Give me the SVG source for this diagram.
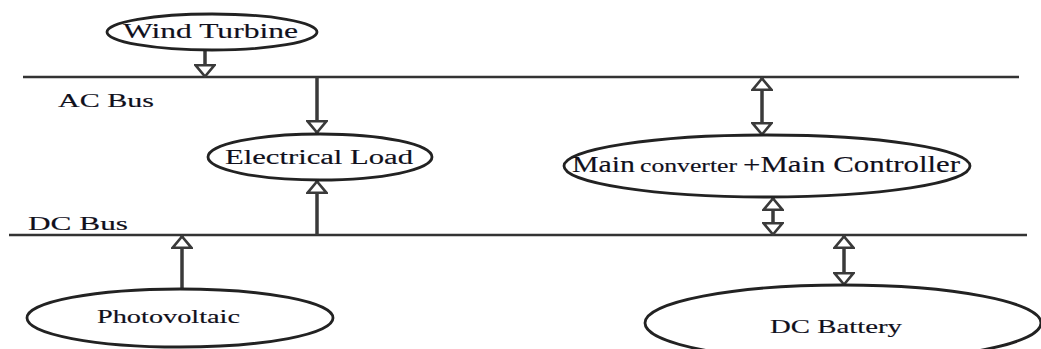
<svg xmlns="http://www.w3.org/2000/svg" width="1041" height="349" viewBox="0 0 1041 349">
  <style>
    .bus { stroke: #333; stroke-width: 2.5; fill: none; }
    .node ellipse { fill: #fff; stroke: #222; stroke-width: 2.8; }
    text { font-family: 'Liberation Serif', 'DejaVu Serif', serif; fill: #10101c; stroke: #10101c; stroke-width: 0.15; }
    .wire { stroke: #3a3a3a; stroke-width: 3.5; fill: none; }
  </style>
  <defs>
    <marker id="head" viewBox="0 0 14 22" refX="13" refY="11" markerUnits="userSpaceOnUse" markerWidth="14" markerHeight="22" orient="auto-start-reverse">
      <path d="M1.2,1.5 L12.5,11 L1.2,20.5 Z" fill="#fff" stroke="#3a3a3a" stroke-width="2.6" stroke-linejoin="miter"/>
    </marker>
  </defs>

  <rect width="1041" height="349" fill="#fff"/>

  <!-- buses and their labels -->
  <g id="buses">
    <line class="bus" x1="23" y1="77" x2="1019" y2="77"/>
    <line class="bus" x1="9" y1="235" x2="1027" y2="235"/>
    <text x="58" y="107" font-family="Liberation Serif, serif" font-size="19" textLength="96" lengthAdjust="spacingAndGlyphs">AC Bus</text>
    <text x="28" y="230" font-family="Liberation Serif, serif" font-size="19" textLength="100" lengthAdjust="spacingAndGlyphs">DC Bus</text>
  </g>

  <!-- connectors -->
  <g id="connectors">
    <line class="wire" x1="205" y1="50" x2="205" y2="77" marker-end="url(#head)"/>
    <line class="wire" x1="317" y1="77" x2="317" y2="133" marker-end="url(#head)"/>
    <line class="wire" x1="317" y1="235" x2="317" y2="181" marker-end="url(#head)"/>
    <line class="wire" x1="762" y1="78" x2="762" y2="135" marker-start="url(#head)" marker-end="url(#head)"/>
    <line class="wire" x1="773" y1="198" x2="773" y2="235" marker-start="url(#head)" marker-end="url(#head)"/>
    <line class="wire" x1="844" y1="236" x2="844" y2="285" marker-start="url(#head)" marker-end="url(#head)"/>
    <line class="wire" x1="182" y1="289" x2="182" y2="236" marker-end="url(#head)"/>
  </g>

  <g id="wind-turbine" class="node">
    <ellipse cx="212" cy="32" rx="105" ry="18"/>
    <text x="123" y="38" font-family="Liberation Serif, serif" font-size="20" textLength="175" lengthAdjust="spacingAndGlyphs">Wind Turbine</text>
  </g>

  <g id="electrical-load" class="node">
    <ellipse cx="320" cy="157" rx="112" ry="23"/>
    <text x="225" y="164" font-family="Liberation Serif, serif" font-size="20" textLength="188" lengthAdjust="spacingAndGlyphs">Electrical Load</text>
  </g>

  <g id="main-converter" class="node">
    <ellipse cx="767" cy="166" rx="203" ry="31"/>
    <text x="572" y="172" font-family="Liberation Serif, serif" font-size="23" textLength="63" lengthAdjust="spacingAndGlyphs">Main</text>
    <text x="640" y="172" font-family="Liberation Serif, serif" font-size="19" textLength="97" lengthAdjust="spacingAndGlyphs">converter</text>
    <text x="743" y="172" font-family="Liberation Serif, serif" font-size="23" textLength="217" lengthAdjust="spacingAndGlyphs">+Main Controller</text>
  </g>

  <g id="photovoltaic" class="node">
    <ellipse cx="180" cy="318" rx="153" ry="29"/>
    <text x="97" y="323" font-family="Liberation Serif, serif" font-size="18" textLength="143" lengthAdjust="spacingAndGlyphs">Photovoltaic</text>
  </g>

  <g id="dc-battery" class="node">
    <ellipse cx="843" cy="323" rx="198" ry="38"/>
    <text x="770" y="333" font-family="Liberation Serif, serif" font-size="19" textLength="132" lengthAdjust="spacingAndGlyphs">DC Battery</text>
  </g>
</svg>
